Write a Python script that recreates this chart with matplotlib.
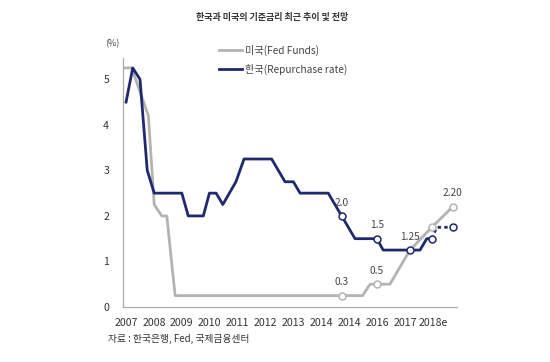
import matplotlib.pyplot as plt

plt.rcParams['font.family'] = ['Noto Sans CJK KR', 'DejaVu Sans']

# x positions are in tick units (2007 = 0)
tick_labels = ["2007", "2008", "2009", "2010", "2011", "2012", "2013",
               "2014", "2014", "2016", "2017", "2018e"]

us_x = [-0.05, 0.20, 0.80, 1.01, 1.28, 1.46, 1.76, 8.48, 8.75, 9.46, 10.18, 10.96, 11.71]
us_y = [5.25, 5.25, 4.2, 2.25, 2.0, 2.0, 0.25, 0.25, 0.5, 0.5, 1.25, 1.75, 2.2]

kr_x = [0.0, 0.24, 0.50, 0.76, 1.01, 2.00, 2.23, 2.77, 2.99, 3.23, 3.47, 3.94,
        4.23, 5.22, 5.70, 6.00, 6.24, 7.25, 7.73, 8.21, 8.99, 9.22, 10.18,
        10.54, 10.78, 10.96]
kr_y = [4.5, 5.25, 5.0, 3.0, 2.5, 2.5, 2.0, 2.0, 2.5, 2.5, 2.25, 2.75,
        3.25, 3.25, 2.75, 2.75, 2.5, 2.5, 2.0, 1.5, 1.5, 1.25, 1.25,
        1.25, 1.5, 1.5]
kr_fx = [10.96, 11.14, 11.71]
kr_fy = [1.5, 1.75, 1.75]

us_mx = [7.74, 8.99, 10.96, 11.71]
us_my = [0.25, 0.5, 1.75, 2.2]
kr_mx = [7.73, 8.99, 10.18, 10.96, 11.71]
kr_my = [2.0, 1.5, 1.25, 1.5, 1.75]

labels = [(7.73, 2.0, "2.0"), (8.99, 1.5, "1.5"), (10.18, 1.25, "1.25"),
          (8.99, 0.5, "0.5"), (7.74, 0.25, "0.3"), (11.71, 2.2, "2.20")]

gray = "#b3b3b3"
navy = "#1f2a6e"

fig = plt.figure(figsize=(5.5, 3.62), dpi=100)
ax = fig.add_axes([0.2236, 0.152, 0.607, 0.688])

ax.plot(us_x, us_y, color=gray, lw=2.0, label="미국(Fed Funds)", zorder=2)
ax.plot(kr_x, kr_y, color=navy, lw=2.0, label="한국(Repurchase rate)", zorder=3)
ax.plot(kr_fx, kr_fy, color=navy, lw=2.0, ls=(0, (1.2, 1.2)), zorder=3)
ax.plot(us_mx, us_my, 'o', ms=5, mfc='white', mec=gray, mew=1.1, zorder=4)
ax.plot(kr_mx, kr_my, 'o', ms=5, mfc='white', mec=navy, mew=1.1, zorder=5)

for x, y, t in labels:
    ax.annotate(t, (x, y), xytext=(0, 6), textcoords='offset points',
                ha='center', va='bottom', fontsize=7.3, color='#444444')

ax.set_xlim(-0.11, 11.86)
ax.set_ylim(0, 5.47)
ax.set_xticks(range(len(tick_labels)))
ax.set_xticklabels(tick_labels)
ax.set_yticks([0, 1, 2, 3, 4, 5])
ax.tick_params(length=0, labelsize=7.6, colors='#333333', pad=8)
ax.tick_params(axis='y', pad=10)
for s in ['top', 'right']:
    ax.spines[s].set_visible(False)
for s in ['left', 'bottom']:
    ax.spines[s].set_color('#aaaaaa')
    ax.spines[s].set_linewidth(0.9)

ax.legend(loc='upper left', bbox_to_anchor=(0.26, 1.09), frameon=False,
          fontsize=7.3, handlelength=2.3, handletextpad=0.3, labelspacing=0.8,
          labelcolor='#444444')

fig.text(0.495, 0.952, "한국과 미국의 기준금리 최근 추이 및 전망", ha='center',
         va='center', fontsize=6.5, fontweight='bold', color='#333333')
fig.text(0.204, 0.878, "(%)", ha='center', va='center', fontsize=6.5, color='#444444')
fig.text(0.196, 0.063, "자료 : 한국은행, Fed, 국제금융센터", ha='left', va='center',
         fontsize=7, color='#333333')

fig.savefig("out.png", dpi=100)
